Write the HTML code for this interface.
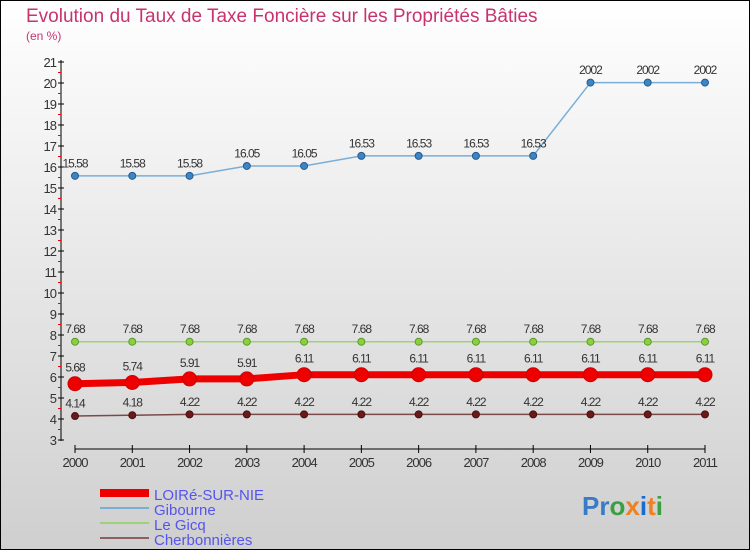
<!DOCTYPE html>
<html><head><meta charset="utf-8"><style>
body{margin:0;width:750px;height:550px;overflow:hidden}
svg{display:block;font-family:"Liberation Sans",sans-serif}
</style></head><body>
<svg id="c" width="750" height="550">
<defs><linearGradient id="bg" x1="0" y1="0" x2="0" y2="1"><stop offset="0" stop-color="#ffffff"/><stop offset="1" stop-color="#cfcfcf"/></linearGradient></defs>
<rect x="0.5" y="0.5" width="749" height="549" fill="url(#bg)" stroke="#000"/>
<text x="26" y="22" font-size="19" fill="#c8336e">Evolution du Taux de Taxe Foncière sur les Propriétés Bâties</text>
<text x="26" y="40" font-size="12" fill="#c8336e">(en %)</text>
<g id="axes"></g><g id="series"></g>
<g>
<rect x="100" y="489" width="49" height="8" fill="#e00"/>
<text x="154" y="500" font-size="15" fill="#5555ee">LOIRé-SUR-NIE</text>
<rect x="100" y="507" width="49" height="2" fill="#7aaed6"/>
<text x="154" y="515" font-size="15" fill="#5555ee">Gibourne</text>
<rect x="100" y="522" width="49" height="2" fill="#9ed27a"/>
<text x="154" y="530" font-size="15" fill="#5555ee">Le Gicq</text>
<rect x="100" y="537" width="49" height="2" fill="#8a6060"/>
<text x="154" y="545" font-size="15" fill="#5555ee">Cherbonnières</text>
</g>
<text x="582" y="515" font-size="26" font-weight="bold"><tspan fill="#3a7bc8">Pr</tspan><tspan fill="#3aa040">o</tspan><tspan fill="#f08020">x</tspan><tspan fill="#1a6ad0">i</tspan><tspan fill="#f08020">t</tspan><tspan fill="#3aa040">i</tspan></text>
</svg>
<script>
const years=[2000,2001,2002,2003,2004,2005,2006,2007,2008,2009,2010,2011];
const loire=[5.68,5.74,5.91,5.91,6.11,6.11,6.11,6.11,6.11,6.11,6.11,6.11];
const gibourne=[15.58,15.58,15.58,16.05,16.05,16.53,16.53,16.53,16.53,20.02,20.02,20.02];
const legicq=[7.68,7.68,7.68,7.68,7.68,7.68,7.68,7.68,7.68,7.68,7.68,7.68];
const cherb=[4.14,4.18,4.22,4.22,4.22,4.22,4.22,4.22,4.22,4.22,4.22,4.22];
const yTicks=[3,4,5,6,7,8,9,10,11,12,13,14,15,16,17,18,19,20,21];
const NS="http://www.w3.org/2000/svg";
const x=i=>75+i*(705-75)/(years.length-1);
const y=v=>440-(v-3)*(440-62)/18;
function mk(t,a,p){const e=document.createElementNS(NS,t);for(const k in a)e.setAttribute(k,a[k]);p.appendChild(e);return e;}
const ax=document.getElementById('axes');
let l=mk('line',{x1:61,y1:60,x2:61,y2:441,stroke:'#000'},ax);


yTicks.forEach(v=>{
 mk('line',{x1:58,x2:64,y1:y(v),y2:y(v),stroke:'#000'},ax);
 if(v<21)mk('line',{x1:58,x2:61,y1:y(v+0.5),y2:y(v+0.5),stroke:'#e00'},ax);
 const t=mk('text',{x:56,y:y(v)+5,'font-size':13,'text-anchor':'end',fill:'#333','letter-spacing':'-1'},ax);
 t.textContent=v;
 
 
});
l=mk('line',{x1:75,y1:449,x2:705,y2:449,stroke:'#000'},ax);


years.forEach((yr,i)=>{
 mk('line',{x1:x(i),x2:x(i),y1:445,y2:453,stroke:'#000'},ax);
 const t=mk('text',{x:x(i),y:467,'font-size':13,'text-anchor':'middle',fill:'#333','letter-spacing':'-1'},ax);
 t.textContent=yr;
 
 
});
const sg=document.getElementById('series');
function series(data,name,line,w,dot,r,dotStroke){
 const g=mk('g',{},sg);
 
 
 const p=mk('polyline',{points:data.map((v,i)=>x(i)+','+y(v)).join(' '),fill:'none',stroke:line,'stroke-width':w},g);
 
 
 data.forEach((v,i)=>{
  const c=mk('circle',{cx:x(i),cy:y(v),r:r,fill:dot,stroke:dotStroke,'stroke-width':1},g);
  
  
  const t=mk('text',{x:x(i),y:y(v)-(r+5),'font-size':12,'text-anchor':'middle',fill:'#333','letter-spacing':'-1'},g);
  t.textContent=(name==='gibourne'&&v>20)?'2002':String(v);
  
  
 });
}
series(cherb,'cherbonnieres','#7a4a4a',1.5,'#6a1a1a',3.5,'#4a1010');
series(legicq,'le-gicq','#9ed27a',1.5,'#8cd040',3.5,'#5a9a2a');
series(gibourne,'gibourne','#7aaed6',1.5,'#3a86c6',3.5,'#2a5a8a');
series(loire,'loire','#ee0000',7,'#ee0000',7,'#cc0000');
</script>
</body></html>
